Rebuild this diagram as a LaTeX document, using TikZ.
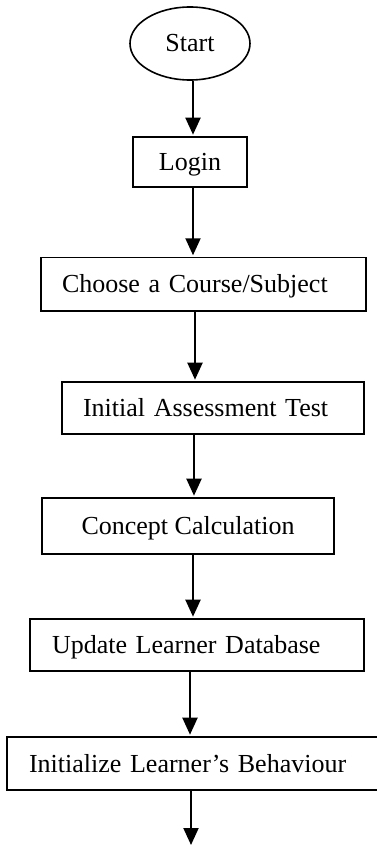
\documentclass[tikz,border=0pt]{standalone}
\usepackage{fontspec}
\setmainfont{Liberation Serif}
\usetikzlibrary{arrows.meta,shapes.geometric}
\begin{document}
\begin{tikzpicture}[x=1pt,y=-1pt,
  txt/.style={font=\fontsize{26}{30}\selectfont},
  box/.style={txt,draw,line width=1.6pt,rectangle,inner ysep=0pt,text height=17pt,text depth=0pt},
  leftbox/.style={box,align=left},
  arr/.style={line width=2pt,shorten >=1.5pt,-{Triangle[length=17pt,width=15pt]}}]
\useasboundingbox (0,0) rectangle (376,845);
\node[txt,ellipse,draw,line width=1.6pt,minimum width=120pt,minimum height=73pt,inner sep=0pt] (start) at (190,43.5) {Start};
\node[box,minimum width=114pt,minimum height=50pt,align=center] (login) at (190,162) {Login};
\node[leftbox,text width=283pt,inner xsep=21pt,minimum height=53.5pt] (choose) at (203.5,284.3) {Choose a Course/Subject};
\node[leftbox,text width=260pt,inner xsep=21pt,minimum height=52pt] (initial) at (213,408) {Initial Assessment Test};
\node[box,minimum width=292pt,minimum height=56pt,align=center] (concept) at (188,526) {Concept Calculation};
\node[leftbox,text width=290pt,inner xsep=22pt,minimum height=52pt] (update) at (197,645) {Update Learner Database};
\node[leftbox,text width=329pt,inner xsep=22pt,minimum height=53pt] (initialize) at (193.5,763.5) {Initialize Learner’s Behaviour};
\coordinate (endpt) at (191,846.5);
\draw[arr] ([xshift=3pt]start.south) -- ([xshift=3pt]login.north);
\draw[arr] ([xshift=3pt]login.south) -- ([xshift=-10.5pt]choose.north);
\draw[arr] ([xshift=-8.5pt]choose.south) -- ([xshift=-18pt]initial.north);
\draw[arr] ([xshift=-19pt]initial.south) -- ([xshift=6pt]concept.north);
\draw[arr] ([xshift=5pt]concept.south) -- ([xshift=-4pt]update.north);
\draw[arr] ([xshift=-7pt]update.south) -- ([xshift=-3.5pt]initialize.north);
\draw[arr] ([xshift=-2.5pt]initialize.south) -- (endpt);
\end{tikzpicture}
\end{document}
